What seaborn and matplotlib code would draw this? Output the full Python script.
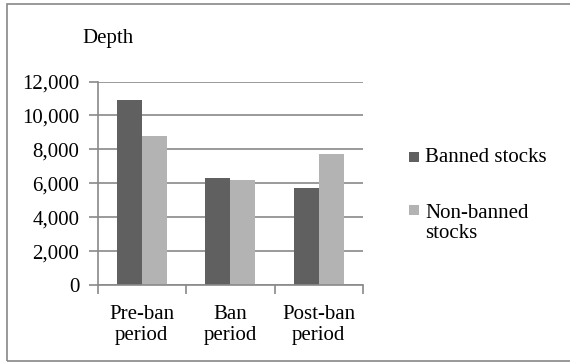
import matplotlib
matplotlib.use("Agg")
import matplotlib.pyplot as plt
from matplotlib.patches import Rectangle
from matplotlib.ticker import FuncFormatter, FixedLocator
import pandas as pd
import seaborn as sns

# Average depth per period
periods = ["Pre-ban\nperiod", "Ban\nperiod", "Post-ban\nperiod"]
banned = [10900, 6300, 5720]
non_banned = [8760, 6220, 7730]
groups = ["Banned stocks", "Non-banned\nstocks"]
colors = ["#606060", "#b3b3b3"]
y_ticks = [0, 2000, 4000, 6000, 8000, 10000, 12000]

df = pd.DataFrame({
    "period": periods * 2,
    "group": [groups[0]] * 3 + [groups[1]] * 3,
    "depth": banned + non_banned,
})

FS = 15
sns.set_theme(style="white")
plt.rcParams["font.family"] = ["Liberation Serif", "DejaVu Serif"]
plt.rcParams["font.size"] = FS

W, H = 570, 363
fig = plt.figure(figsize=(W / 100, H / 100), dpi=100)
fig.patch.set_facecolor("white")


def px(x0, y0, x1, y1):
    return [x0 / W, 1 - y1 / H, (x1 - x0) / W, (y1 - y0) / H]


ax = fig.add_axes(px(97.5, 81.5, 363, 285))
sns.barplot(data=df, x="period", y="depth", hue="group", order=periods,
            hue_order=groups, palette=colors, width=0.565, gap=0,
            saturation=1, legend=False, ax=ax, edgecolor="none",
            linewidth=0)

grid_c = "#898989"
ax.set_xlim(-0.5, 2.5)
ax.set_ylim(0, 12000)
ax.set_yticks(y_ticks)
ax.yaxis.set_major_formatter(FuncFormatter(lambda v, p: f"{int(v):,}"))
ax.grid(axis="y", color=grid_c, linewidth=1.2)
ax.set_axisbelow(True)

# Category boundaries carry tick marks; labels sit at the centres
ax.xaxis.set_major_locator(FixedLocator([-0.5, 0.5, 1.5, 2.5]))
ax.xaxis.set_major_formatter(FuncFormatter(lambda v, p: ""))
ax.xaxis.set_minor_locator(FixedLocator([0, 1, 2]))
ax.set_xticklabels(periods, minor=True, linespacing=1.1)
ax.tick_params(axis="x", which="major", length=6.5, width=1.2, color=grid_c,
               direction="out", bottom=True)
ax.tick_params(axis="x", which="minor", length=0, pad=14.5, labelsize=FS,
               labelcolor="black")
ax.tick_params(axis="y", length=6.5, width=1.2, color=grid_c, direction="out",
               left=True, pad=6.5, labelsize=FS, labelcolor="black")

for side in ("top", "right"):
    ax.spines[side].set_visible(False)
for side in ("left", "bottom"):
    ax.spines[side].set_color(grid_c)
    ax.spines[side].set_linewidth(1.2)

ax.set_xlabel("")
ax.set_ylabel("")

fig.text(82.7 / W, 1 - 43 / H, "Depth", fontsize=FS, va="baseline",
         ha="left", color="black")

# Legend: colour swatch plus label for each group
for base, col in [(162, colors[0]), (215, colors[1])]:
    fig.patches.append(Rectangle((409.3 / W, 1 - base / H), 10 / W, 10.5 / H,
                                 transform=fig.transFigure, facecolor=col,
                                 edgecolor="none"))
fig.text(425 / W, 1 - 162 / H, groups[0], fontsize=FS, va="baseline",
         ha="left", color="black")
fig.text(425 / W, 1 - 238 / H, groups[1], fontsize=FS, va="baseline",
         ha="left", color="black", linespacing=1.1)

# Outer frame
fig.patches.append(Rectangle((6.5 / W, 1 - 360.5 / H), 570 / W, 357 / H,
                             transform=fig.transFigure, facecolor="none",
                             edgecolor="#888888", linewidth=1.2))

fig.savefig("out.png", dpi=100, facecolor="white")
